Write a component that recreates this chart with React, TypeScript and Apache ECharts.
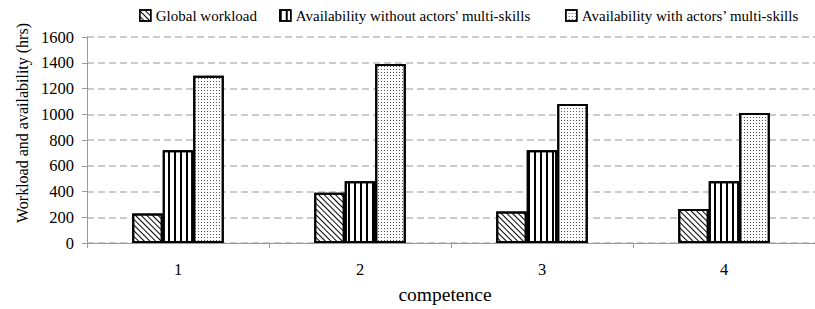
import React, { useEffect, useRef } from "react";
import * as echarts from "echarts";

const categories = ["1", "2", "3", "4"];
const seriesNames = [
  "Global workload",
  "Availability without actors' multi-skills",
  "Availability with actors’ multi-skills",
];
const globalWorkload = [230, 390, 245, 265];
const availabilityWithout = [720, 480, 720, 480];
const availabilityWith = [1300, 1390, 1080, 1010];
const yMin = 0;
const yMax = 1600;
const yInterval = 200;

const FONT = "Liberation Serif";

const decals: any[] = [
  { symbol: "rect", symbolSize: 1, symbolKeepAspect: false, color: "#000", backgroundColor: null, dashArrayX: [20, 0], dashArrayY: [0.8, 2.2], rotation: Math.PI / 4 },
  { symbol: "rect", symbolSize: 1, symbolKeepAspect: false, color: "#000", backgroundColor: null, dashArrayX: [1.2, 4], dashArrayY: [20, 0], rotation: 0 },
  { symbol: "rect", symbolSize: 1, symbolKeepAspect: false, color: "#555", backgroundColor: null, dashArrayX: [1, 2], dashArrayY: [1, 2], rotation: 0 },
];

const dataSets = [globalWorkload, availabilityWithout, availabilityWith];
const legendLefts = [139, 279, 565];

export default function App() {
  const ref = useRef<HTMLDivElement>(null);
  useEffect(() => {
    if (!ref.current) return;
    const chart = echarts.init(ref.current, null, { renderer: "svg" });
    chart.setOption({
      animation: false,
      backgroundColor: "#fff",
      textStyle: { fontFamily: FONT, color: "#000" },
      legend: seriesNames.map((n, i) => ({
        data: [n],
        left: legendLefts[i],
        top: 8,
        padding: 0,
        itemWidth: 11,
        itemHeight: 11,
        icon: "rect",
        textStyle: { fontFamily: FONT, fontSize: 15, color: "#000" },
        itemStyle: { borderColor: "#000", borderWidth: 1.5 },
        selectedMode: false,
      })),
      grid: { left: 87, top: 37, width: 736.5, height: 208.5, containLabel: false },
      xAxis: {
        type: "category",
        data: categories,
        name: "competence",
        nameLocation: "middle",
        nameGap: 41,
        nameTextStyle: { fontFamily: FONT, fontSize: 19.5, color: "#000", padding: [0, 12, 0, 0] },
        axisLine: { lineStyle: { color: "#999", width: 1 } },
        axisTick: { show: true, length: 5, lineStyle: { color: "#999" } },
        axisLabel: { margin: 18, fontFamily: FONT, fontSize: 16.5, color: "#000" },
      },
      yAxis: {
        type: "value",
        min: yMin,
        max: yMax,
        interval: yInterval,
        name: "Workload and availability (hrs)",
        nameLocation: "middle",
        nameGap: 56,
        nameTextStyle: { fontFamily: FONT, fontSize: 16, color: "#000", padding: [0, 0, 0, 34] },
        axisLine: { show: true, lineStyle: { color: "#999", width: 1 } },
        axisTick: { show: true, length: 5, lineStyle: { color: "#999" } },
        axisLabel: { margin: 13, fontFamily: FONT, fontSize: 16.5, color: "#000", formatter: (v: number) => String(v) },
        splitLine: { show: true, lineStyle: { color: "#bbb", width: 1.5, type: [7, 4] } },
      },
      series: seriesNames.map((n, i) => ({
        name: n,
        type: "bar",
        data: dataSets[i],
        barWidth: 30.5,
        barGap: "0%",
        itemStyle: { color: "#fff", borderColor: "#000", borderWidth: 2, decal: decals[i] },
      })),
    });
    return () => chart.dispose();
  }, []);
  return (
    <div ref={ref} style={{ position: "fixed", left: 0, top: 0, width: 815, height: 309, background: "#fff" }} />
  );
}
